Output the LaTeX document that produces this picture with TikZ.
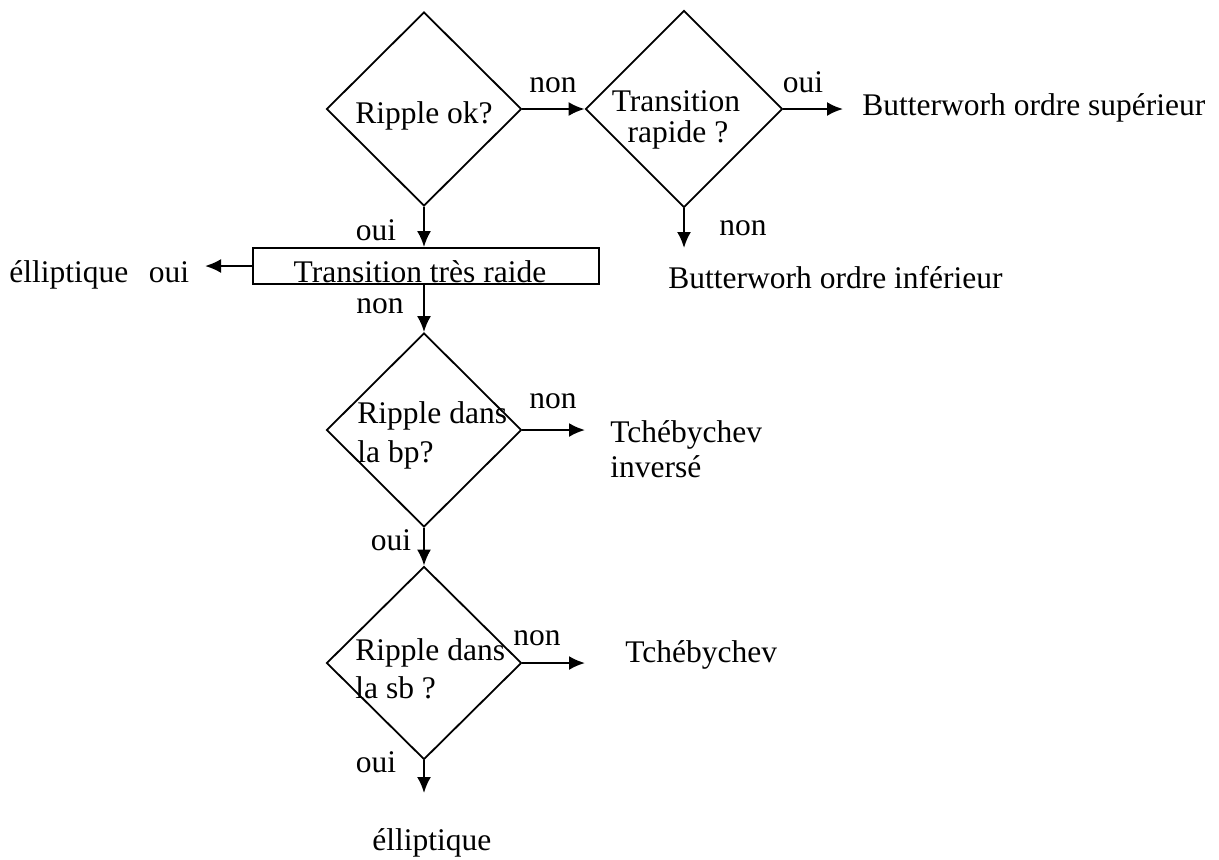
\documentclass[tikz,border=0pt]{standalone}
\usepackage{fontspec}
\setmainfont{Liberation Serif}
\usetikzlibrary{shapes.geometric,arrows.meta}
\begin{document}
\begin{tikzpicture}[x=0.5pt,y=-0.5pt,
  every node/.style={font=\fontsize{15.75}{18}\selectfont},
  dia/.style={draw,shape=diamond,inner sep=0pt,line width=0.9pt,minimum width=97.5pt,minimum height=97pt},
  boxnode/.style={draw,rectangle,inner sep=0pt,line width=0.9pt,minimum width=173pt,minimum height=18pt},
  lbl/.style={inner sep=0pt,anchor=base},
  lblw/.style={inner sep=0pt,anchor=base west},
  arr/.style={line width=1.1pt,-{Latex[length=8pt,width=7pt]}}]
\useasboundingbox (0,0) rectangle (1219,859);
% shapes
\node[dia] (d1) at (424,109) {};
\node[dia,minimum width=98.5pt,minimum height=98.5pt] (d2) at (684,109) {};
\node[boxnode] (box) at (426,266) {};
\node[dia] (d3) at (424,430) {};
\node[dia,minimum height=96.5pt] (d4) at (424,663) {};
% free ends
\coordinate (e2) at (843,109);
\coordinate (e2s) at (684,248);
\coordinate (ebw) at (205,266);
\coordinate (e3) at (585,430);
\coordinate (e4) at (585,663);
\coordinate (e4s) at (424,793);
% texts inside shapes
\node[lbl] (t1) at (424,123) {Ripple ok?};
\node[lbl] (t2a) at (676,111) {Transition};
\node[lbl] (t2b) at (678,142) {rapide ?};
\node[lbl] (tb) at (420,282) {Transition très raide};
\node[lblw] (t3a) at (357,423) {Ripple dans};
\node[lblw] (t3b) at (357,462) {la bp?};
\node[lblw] (t4a) at (355,660) {Ripple dans};
\node[lblw] (t4b) at (355,698) {la sb ?};
% labels
\node[lbl] (l1) at (553,92) {non};
\node[lbl] (l2) at (803,92) {oui};
\node[lblw] (r2) at (862,115) {Butterworh ordre supérieur};
\node[lbl] (l3) at (376,240) {oui};
\node[lbl] (l4) at (743,235) {non};
\node[lblw] (r4) at (668,288) {Butterworh ordre inférieur};
\node[lblw] (r5) at (9,282) {élliptique};
\node[lbl] (l5) at (169,282) {oui};
\node[lbl] (l6) at (380,313) {non};
\node[lbl] (l7) at (553,408) {non};
\node[lblw] (r7a) at (610,442) {Tchébychev};
\node[lblw] (r7b) at (610,477) {inversé};
\node[lbl] (l8) at (391,550) {oui};
\node[lbl] (l9) at (537,645) {non};
\node[lblw] (r9) at (625,662) {Tchébychev};
\node[lbl] (l10) at (376,772) {oui};
\node[lblw] (r10) at (372,850) {élliptique};
% connectors
\draw[arr] (d1.east) -- (d2.west);
\draw[arr] (d2.east) -- (e2);
\draw[arr] (d2.south) -- (e2s);
\draw[arr] (d1.south) -- (d1.south |- box.north);
\draw[arr] (box.west) -- (ebw);
\draw[arr] (d1.south |- box.south) -- (d3.north);
\draw[arr] (d3.east) -- (e3);
\draw[arr] (d3.south) -- (d4.north);
\draw[arr] (d4.east) -- (e4);
\draw[arr] (d4.south) -- (e4s);
\end{tikzpicture}
\end{document}
